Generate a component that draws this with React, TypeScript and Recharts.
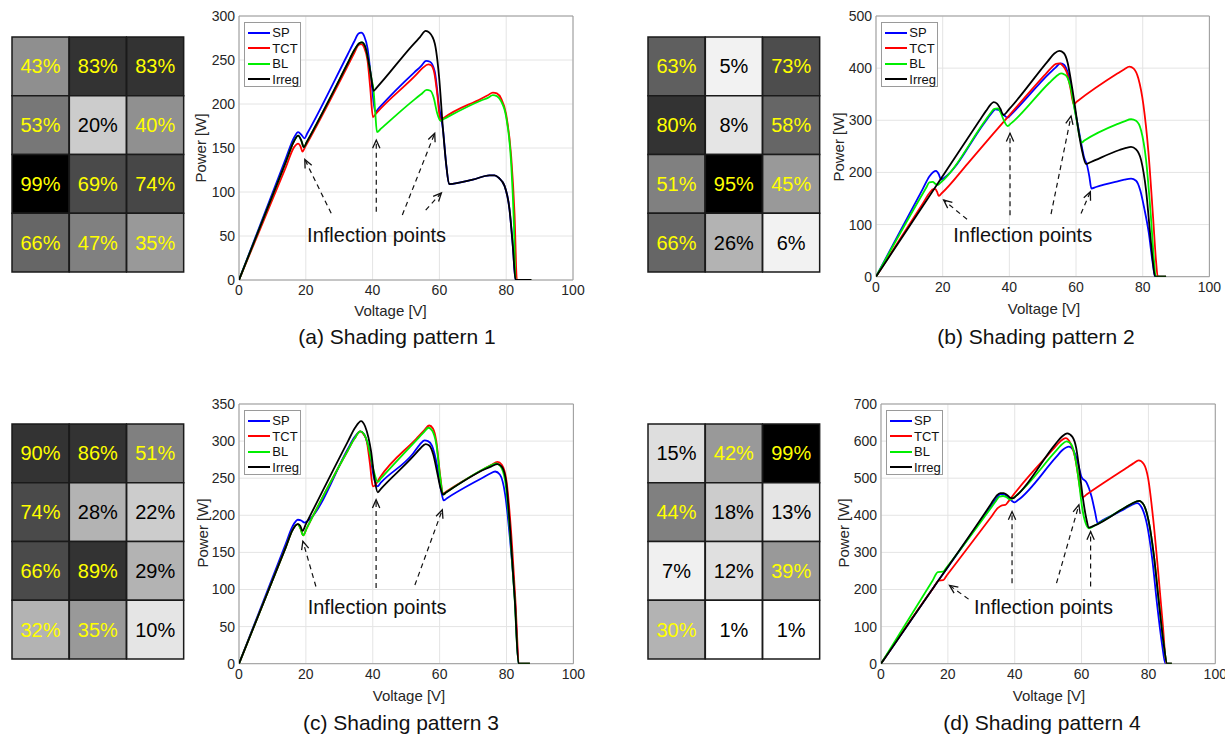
import React from 'react';
import { BarChart, Bar, Cell, LabelList, LineChart, Line, XAxis, YAxis, CartesianGrid, Legend, ReferenceArea, ReferenceLine, ReferenceDot } from 'recharts';

type Pt = [number, number];

const FONT = "'Liberation Sans', Arial, Helvetica, sans-serif";
const seriesNames = ['SP', 'TCT', 'BL', 'Irreg'];
const seriesColors = ['#0000ff', '#ff0000', '#00ee00', '#000000'];
const voltTicks = [0, 20, 40, 60, 80, 100];

// (a) shading pattern 1
const gridA = [43, 83, 83, 53, 20, 40, 99, 69, 74, 66, 47, 35];
const shadeA = [143, 51, 51, 119, 204, 144, 0, 74, 71, 102, 128, 153];
const ticksA = [0, 50, 100, 150, 200, 250, 300];
const aSP: Pt[] = [[0,0],[14,138],[16.5,162],[17.7,168],[18.7,165],[19.6,161],[20.5,167],[32.5,256],[34.5,271],[35.8,280],[36.6,281],[37.5,277],[38.5,263],[39.6,228],[40.8,191],[42,196],[52.5,236],[54.5,243],[56,249],[57.2,248],[58.6,237],[59.9,197],[61.1,170],[62.1,129],[62.9,109],[70,114],[75,119],[76.5,119],[77.8,116],[79.5,107],[81,80],[82,38],[82.8,0],[87.5,0]];
const aTCT: Pt[] = [[0,0],[14,128],[16.5,151],[17.7,155],[18.4,152],[19,146],[19.9,152],[32.5,243],[34.5,258],[35.8,267],[36.6,268],[37.5,264],[38.5,249],[39.3,218],[40.1,185],[41,189],[53,233],[55,241],[56.7,245],[57.5,244],[58.5,235],[59.4,210],[60.3,181],[61.3,184],[72.5,206],[74.5,210],[76,213],[77.2,212],[78.5,206],[80,188],[81.5,140],[82.5,75],[83.2,0],[87.5,0]];
const aBL: Pt[] = [[0,0],[14,134],[16.5,158],[17.7,164],[18.6,159],[19.4,151],[20.3,157],[32.5,246],[34.5,261],[36,269],[36.8,270],[37.8,265],[38.8,248],[39.6,230],[40.3,215],[40.8,190],[41.3,168],[42.5,172],[52.5,205],[54.5,211],[56.2,216],[57.3,215],[58.3,207],[59.3,190],[60.3,181],[61.3,183],[72.5,204],[74.5,207],[76,210],[77.2,209],[78.5,203],[80,185],[81.5,132],[82.3,65],[82.8,0],[87.5,0]];
const aIrreg: Pt[] = [[0,0],[14,134],[16.5,158],[17.7,164],[18.6,159],[19.4,151],[20.3,157],[32.5,246],[34.5,261],[36,269],[36.8,270],[37.8,265],[38.8,248],[39.6,230],[40.3,215],[41.3,219],[52,267],[54.2,276],[55.9,283],[57,281],[58.6,269],[59.9,231],[61.1,170],[62.1,129],[62.9,109],[70,114],[75,119],[76.5,119],[77.8,116],[79.5,107],[81,80],[82,38],[82.8,0],[87.5,0]];
const arrowsA = [[27.6,75.8,19.7,137],[41.1,77.6,41.1,159],[48.9,73.9,58.6,166.7],[55.9,79.5,60.6,99]];
const noteA: Pt = [41.2, 51];

// (b) shading pattern 2
const gridB = [63, 5, 73, 80, 8, 58, 51, 95, 45, 66, 26, 6];
const shadeB = [95, 242, 77, 51, 229, 102, 128, 0, 153, 102, 179, 242];
const ticksB = [0, 100, 200, 300, 400, 500];
const bSP: Pt[] = [[0,0],[14,168],[16,192],[17.2,201],[18,203],[18.8,197],[19.5,186],[20.3,189],[32.5,295],[34.5,312],[35.8,321],[36.8,320],[37.8,313],[38.7,308],[39.5,305],[40.5,311],[52,390],[54,402],[55.3,409],[56.3,407],[57.3,396],[58.3,371],[59.5,326],[61,275],[62.5,227],[63.3,214],[64,192],[64.6,169],[66,172],[72.5,183],[74.5,186],[76.5,188],[78,184],[79.3,165],[80.5,130],[81.8,85],[83,26],[83.7,0],[87,0]];
const bTCT: Pt[] = [[0,0],[14,140],[16.2,162],[17.2,168],[17.8,168],[18.3,163],[18.8,155],[19.7,160],[27.5,217],[35,273],[39.5,306],[50.5,386],[52.5,400],[54,408],[55,409],[56,405],[57.2,392],[58.3,362],[59.3,331],[60.3,336],[72.5,390],[74.5,398],[76,403],[77.3,399],[78.7,380],[80.2,330],[81.7,240],[83.1,115],[84,30],[84.5,0],[87,0]];
const bBL: Pt[] = [[0,0],[13,148],[15,170],[16,181],[17,182],[17.8,178],[18.5,176],[19.3,180],[32.5,297],[34.5,315],[35.5,322],[36.5,323],[37.3,316],[38.2,302],[39.5,289],[40.5,294],[52,372],[54,384],[55.5,390],[56.5,388],[57.5,381],[58.5,360],[59.3,330],[60.2,300],[61,270],[61.6,257],[62.5,261],[72.5,293],[74.5,298],[76.5,302],[78,299],[79.5,281],[81,224],[82.4,120],[83.4,30],[83.9,0],[87,0]];
const bIrreg: Pt[] = [[0,0],[31,299],[33,318],[34.5,331],[35.3,335],[36.3,332],[37.3,322],[38.2,310],[40,322],[51.5,413],[53.5,428],[55,433],[56.3,429],[57.5,410],[58.5,375],[59.5,335],[60.5,290],[61.7,245],[63,216],[64.5,220],[73,243],[75,247],[76.5,249],[78,244],[79.5,224],[81,166],[82.3,77],[83.1,26],[83.7,0],[87,0]];
const arrowsB = [[27.3,110,20.3,147],[40.2,118,40.2,275],[52.5,120,58.5,308],[61.5,121,64.3,163]];
const noteB: Pt = [44, 80];

// (c) shading pattern 3
const gridC = [90, 86, 51, 74, 28, 22, 66, 89, 29, 32, 35, 10];
const shadeC = [51, 51, 128, 74, 179, 204, 74, 51, 179, 179, 153, 229];
const ticksC = [0, 50, 100, 150, 200, 250, 300, 350];
const cSP: Pt[] = [[0,0],[14,162],[16,185],[17.6,194],[18.6,193],[19.6,190],[20.4,192],[32.5,289],[34.5,305],[36.3,313],[37.3,310],[38.4,297],[39.4,275],[40.4,250],[41.4,239],[42.4,244],[52,283],[54,295],[55.5,301],[56.5,300],[57.7,294],[59.2,268],[60.5,232],[61.2,220],[62.2,223],[73,251],[75,256],[76.6,259],[78,255],[79.6,228],[81.1,165],[82.6,80],[83.6,0],[87,0]];
const cTCT: Pt[] = [[0,0],[14,157],[16,180],[17.6,188],[18.4,182],[19.2,173],[20.2,182],[32.5,287],[34.5,303],[36.3,313],[37.3,309],[38.2,300],[39.2,268],[40,239],[40.6,240],[42,250],[53,303],[55.3,314],[56.9,321],[58,317],[59,300],[60.2,252],[61,229],[62,232],[73.5,263],[75.5,268],[77.3,272],[78.6,268],[80,246],[81.3,182],[82.6,90],[83.8,0],[87,0]];
const cBL: Pt[] = [[0,0],[14,157],[16,180],[17.6,188],[18.4,182],[19.2,173],[20.2,182],[32.5,287],[34.5,303],[36.3,313],[37.3,310],[38.4,298],[39.4,278],[40.4,258],[41.5,245],[42.5,250],[53,301],[55.1,311],[56.7,318],[57.8,314],[59,296],[60.2,250],[61,228],[62,231],[73,262],[75.2,267],[76.9,270],[78.2,266],[79.6,246],[81,180],[82.4,90],[83.6,0],[87,0]];
const cIrreg: Pt[] = [[0,0],[14,157],[16,180],[17.6,188],[18.3,186],[19,179],[20,188],[32.5,299],[34.7,318],[36.5,327],[37.7,320],[38.7,305],[39.5,286],[40.5,250],[41.5,231],[42.5,236],[52,279],[54.2,290],[55.8,296],[56.9,294],[58.1,282],[59.3,257],[60.3,236],[61,228],[62,231],[73.5,262],[75.5,266],[77.3,269],[78.5,266],[79.8,248],[81.1,180],[82.5,85],[83.6,0],[87,0]];
const arrowsC = [[23,104,19.1,165],[41,102,41,221],[52.6,106,60.8,207.5]];
const noteC: Pt = [41.3, 76];

// (d) shading pattern 4
const gridD = [15, 42, 99, 44, 18, 13, 7, 12, 39, 30, 1, 1];
const shadeD = [222, 153, 0, 128, 204, 229, 240, 224, 153, 179, 255, 255];
const ticksD = [0, 100, 200, 300, 400, 500, 600, 700];
const dSP: Pt[] = [[0,0],[17,222],[31,400],[33,425],[34.7,448],[35.7,457],[36.7,457],[37.8,450],[39,440],[40,435],[41,441],[52.3,556],[54.3,576],[56.2,585],[57.5,576],[58.8,545],[60,503],[61.5,488],[63,450],[64,410],[64.8,379],[66,385],[73,418],[75,428],[76.6,433],[78.1,419],[79.6,374],[81.1,285],[82.6,159],[84.1,51],[85.1,0],[87,0]];
const dTCT: Pt[] = [[0,0],[15.5,202],[17.3,224],[18.6,225],[19.6,237],[33,396],[35,420],[36.2,427],[37.2,428],[38,436],[39,448],[51.5,578],[53.5,598],[55.2,608],[56.7,594],[58,558],[59,505],[59.7,464],[60.4,449],[61.5,456],[73.5,528],[75.5,540],[77.1,548],[78.6,538],[79.9,500],[81.4,392],[82.9,249],[84.3,105],[85.4,0],[87,0]];
const dBL: Pt[] = [[0,0],[15.5,225],[17,247],[18.6,248],[19.5,258],[32.5,415],[34.5,440],[35.4,450],[36.5,452],[37.5,449],[38.7,442],[39.7,448],[52,570],[54,590],[55.5,599],[57,590],[58.2,550],[59.2,491],[60.2,419],[61.2,379],[62.2,365],[64,373],[73,421],[75,431],[77.2,439],[78.6,428],[80.1,383],[81.6,294],[83.1,168],[84.6,51],[85.6,0],[87,0]];
const dIrreg: Pt[] = [[0,0],[17,222],[31,405],[33,432],[34.5,452],[35.7,460],[36.7,460],[37.7,455],[38.7,447],[39.5,446],[40.5,453],[52,590],[54,611],[55.7,621],[57.2,612],[58.4,581],[59.4,518],[60.4,446],[61.4,392],[62.2,367],[64,373],[73,421],[75,431],[77.2,439],[78.6,428],[80.1,383],[81.6,294],[83.1,168],[84.6,51],[85.6,0],[87,0]];
const arrowsD = [[26.2,174,20.5,211],[39.2,217,39.2,410],[52.5,217,59.2,428],[62.7,208,62.7,356]];
const noteD: Pt = [48.6, 153];

const pts = (a: Pt[]) => a.map(([v, p]) => ({ v, p }));

const panels = [
  { id: 'a', plot: { x0: 239.3, x1: 573.3, y0: 16, y1: 280 }, ticks: ticksA, series: [aSP, aTCT, aBL, aIrreg], arrows: arrowsA, note: noteA,
    grid: gridA, shade: shadeA, gx: 12, gy: 37, ylab: [200, 148], xlab: [390.5, 310], cap: [397, 337], title: '(a) Shading pattern 1' },
  { id: 'b', plot: { x0: 876.3, x1: 1209.7, y0: 16, y1: 276.7 }, ticks: ticksB, series: [bSP, bTCT, bBL, bIrreg], arrows: arrowsB, note: noteB,
    grid: gridB, shade: shadeB, gx: 648, gy: 37, ylab: [838, 147], xlab: [1044, 308], cap: [1036, 337], title: '(b) Shading pattern 2' },
  { id: 'c', plot: { x0: 239.3, x1: 573.7, y0: 404, y1: 663.7 }, ticks: ticksC, series: [cSP, cTCT, cBL, cIrreg], arrows: arrowsC, note: noteC,
    grid: gridC, shade: shadeC, gx: 12, gy: 424, ylab: [202, 533], xlab: [409, 695], cap: [401, 723], title: '(c) Shading pattern 3' },
  { id: 'd', plot: { x0: 881, x1: 1215.3, y0: 404, y1: 663.7 }, ticks: ticksD, series: [dSP, dTCT, dBL, dIrreg], arrows: arrowsD, note: noteD,
    grid: gridD, shade: shadeD, gx: 648, gy: 424, ylab: [843, 533], xlab: [1049, 695], cap: [1042, 723], title: '(d) Shading pattern 4' },
];

function LegendBox() {
  return (
    <div style={{ width: 57, height: 65, boxSizing: 'border-box', background: '#fff', border: '1px solid #9a9a9a', padding: '2px 0 0 3px', fontFamily: FONT }}>
      {seriesNames.map((n, i) => (
        <div key={n} style={{ display: 'flex', alignItems: 'center', height: 15.5, fontSize: 13, color: '#111', lineHeight: '15px' }}>
          <span style={{ display: 'inline-block', width: 22, borderTop: `2px solid ${seriesColors[i]}`, marginRight: 2 }} />
          {n}
        </div>
      ))}
    </div>
  );
}

function ArrowShape(props: any) {
  const { x1, y1, x2, y2 } = props;
  if ([x1, y1, x2, y2].some((v) => typeof v !== 'number')) return null;
  const ang = Math.atan2(y2 - y1, x2 - x1);
  const h = 9, w = 0.42;
  const ax = x2 - h * Math.cos(ang - w), ay = y2 - h * Math.sin(ang - w);
  const bx = x2 - h * Math.cos(ang + w), by = y2 - h * Math.sin(ang + w);
  return (
    <g>
      <line x1={x1} y1={y1} x2={x2} y2={y2} stroke="#111" strokeWidth={1.2} strokeDasharray="5 4" />
      <polyline points={`${ax},${ay} ${x2},${y2} ${bx},${by}`} fill="none" stroke="#111" strokeWidth={1.3} />
    </g>
  );
}

function NoteShape(props: any) {
  return <text x={props.cx} y={props.cy} textAnchor="middle" dominantBaseline="central" fontSize={20} fill="#111">Inflection points</text>;
}

function PVPanel({ cfg }: { cfg: any }) {
  const { x0, x1, y0, y1 } = cfg.plot;
  const padL = 60, padT = 16, padR = 20, padB = 30, yw = 40;
  const W = x1 - x0 + padL + padR, H = y1 - y0 + padT + padB;
  const yMax = cfg.ticks[cfg.ticks.length - 1];
  return (
    <div style={{ position: 'absolute', left: x0 - padL, top: y0 - padT }}>
      <LineChart width={W} height={H} margin={{ top: padT, right: padR, bottom: 0, left: padL - yw }}>
        <CartesianGrid stroke="#e4e4e4" />
        <XAxis type="number" dataKey="v" domain={[0, 100]} ticks={voltTicks} interval={0} allowDataOverflow height={padB}
          tick={{ fontSize: 14, fill: '#262626' }} tickLine={false} axisLine={false} tickSize={5} tickMargin={0} />
        <YAxis type="number" dataKey="p" domain={[0, yMax]} ticks={cfg.ticks} interval={0} allowDataOverflow width={yw}
          tick={{ fontSize: 14, fill: '#262626' }} tickLine={false} axisLine={false} tickSize={4} tickMargin={0} />
        {cfg.series.map((s: Pt[], i: number) => (
          <Line key={seriesNames[i]} name={seriesNames[i]} data={pts(s)} dataKey="p" type="monotone" stroke={seriesColors[i]}
            strokeWidth={1.8} strokeLinejoin="round" dot={false} activeDot={false} isAnimationActive={false} />
        ))}
        {cfg.arrows.map((a: number[], i: number) => (
          <ReferenceLine key={'ar' + i} segment={[{ x: a[0], y: a[1] }, { x: a[2], y: a[3] }]} shape={ArrowShape} />
        ))}
        <ReferenceDot x={cfg.note[0]} y={cfg.note[1]} r={0} shape={NoteShape} />
        <ReferenceArea x1={0} x2={100} y1={0} y2={yMax} fill="none" fillOpacity={0} stroke="#9a9a9a" strokeWidth={1} />
        <Legend content={LegendBox} layout="vertical" align="center" verticalAlign="middle"
          wrapperStyle={{ left: padL + 5, top: padT + 6, width: 57, height: 65 }} />
      </LineChart>
    </div>
  );
}

const rowKeys = [0, 1, 2, 3];

function CellLabel(props: any) {
  const { x, y, width, height, value } = props;
  return (
    <text x={x + width / 2} y={y + height / 2} textAnchor="middle" dominantBaseline="central" fontSize={20}
      fill={value >= 30 ? '#ffff00' : '#000'}>{`${value}%`}</text>
  );
}

function ShadeGrid({ vals, shade, left, top }: { vals: number[]; shade: number[]; left: number; top: number }) {
  const W = 172, H = 235;
  const cols = [0, 1, 2].map((c) => {
    const o: any = { col: c };
    rowKeys.forEach((r) => { o['h' + r] = 1; o['p' + r] = vals[r * 3 + c]; o['s' + r] = shade[r * 3 + c]; });
    return o;
  });
  return (
    <div style={{ position: 'absolute', left: left - 1, top: top - 1 }}>
      <BarChart width={W + 2} height={H + 2} data={cols} margin={{ top: 1, right: 1, bottom: 1, left: 1 }} barCategoryGap={0} barGap={0}>
        <XAxis dataKey="col" hide />
        <YAxis type="number" domain={[0, 4]} reversed hide />
        {rowKeys.map((r) => (
          <Bar key={r} dataKey={'h' + r} stackId="g" isAnimationActive={false}>
            {cols.map((c) => {
              const g = c['s' + r];
              return <Cell key={c.col} fill={`rgb(${g},${g},${g})`} stroke="#1a1a1a" strokeWidth={1.5} />;
            })}
            <LabelList dataKey={'p' + r} content={CellLabel} />
          </Bar>
        ))}
      </BarChart>
    </div>
  );
}

const abs = (x: number, y: number, extra: any = {}) => ({ position: 'absolute' as const, left: x, top: y, transform: 'translate(-50%, -50%)', whiteSpace: 'nowrap' as const, ...extra });

export default function App() {
  return (
    <div style={{ position: 'absolute', left: 0, top: 0, width: 1225, height: 736, background: '#fff', fontFamily: FONT, overflow: 'hidden' }}>
      {panels.map((p) => (
        <React.Fragment key={p.id}>
          <ShadeGrid vals={p.grid} shade={p.shade} left={p.gx} top={p.gy} />
          <PVPanel cfg={p} />
          <div style={abs(p.ylab[0], p.ylab[1], { transform: 'translate(-50%, -50%) rotate(-90deg)', fontSize: 15, color: '#262626' })}>Power [W]</div>
          <div style={abs(p.xlab[0], p.xlab[1], { fontSize: 15, color: '#262626' })}>Voltage [V]</div>
          <div style={abs(p.cap[0], p.cap[1], { fontSize: 21, color: '#111' })}>{p.title}</div>
        </React.Fragment>
      ))}
    </div>
  );
}
